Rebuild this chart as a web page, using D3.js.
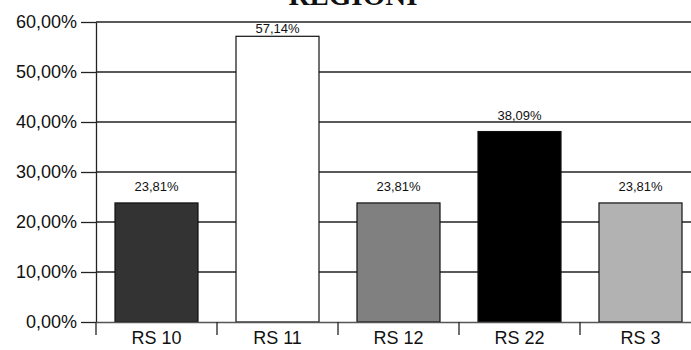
<!DOCTYPE html>
<html>
<head>
<meta charset="utf-8">
<script src="https://cdn.jsdelivr.net/npm/d3@7"></script>
<style>
  html, body { margin: 0; padding: 0; background: #fff; }
  svg { display: block; }
</style>
</head>
<body>
<svg id="chart" width="691" height="350"></svg>
<script>
// Share of cases by region
const categories = ["RS 10", "RS 11", "RS 12", "RS 22", "RS 3"];
const values = [0.2381, 0.5714, 0.2381, 0.3809, 0.2381];
const barColors = ["#333333", "#ffffff", "#808080", "#000000", "#b2b2b2"];
const yTicks = [0, 0.1, 0.2, 0.3, 0.4, 0.5, 0.6];
const title = "REGIONI";

const svg = d3.select("#chart");
const plotLeft = 96, plotRight = 701, plotTop = 22, plotBottom = 322;

const itLocale = d3.formatLocale({ decimal: ",", thousands: ".", grouping: [3], currency: ["", " €"] });
const pct = itLocale.format(".2%");

const x = d3.scaleBand()
  .domain(categories)
  .range([plotLeft, plotRight])
  .paddingInner(0.314)
  .paddingOuter(0.157);

const y = d3.scaleLinear().domain([0, 0.6]).range([plotBottom, plotTop]);

// horizontal gridlines
svg.append("g")
  .selectAll("line")
  .data(yTicks.filter(d => d > 0))
  .join("line")
  .attr("x1", plotLeft).attr("x2", 691)
  .attr("y1", d => y(d)).attr("y2", d => y(d))
  .attr("stroke", "#222").attr("stroke-width", 1.3);

// y axis
const yAxis = svg.append("g")
  .attr("transform", `translate(${plotLeft},0)`)
  .call(d3.axisLeft(y).tickValues(yTicks).tickFormat(pct).tickSize(15).tickSizeOuter(0).tickPadding(4));
yAxis.select(".domain").attr("stroke", "#222").attr("stroke-width", 1.3);
yAxis.selectAll(".tick line").attr("stroke", "#222").attr("stroke-width", 1.3);
yAxis.selectAll("text")
  .attr("font-family", "'Liberation Sans', Arial, sans-serif")
  .attr("font-size", 18).attr("fill", "#111");

// bars
svg.append("g")
  .selectAll("rect")
  .data(categories)
  .join("rect")
  .attr("x", d => x(d))
  .attr("width", x.bandwidth())
  .attr("y", (d, i) => y(values[i]))
  .attr("height", (d, i) => y(0) - y(values[i]))
  .attr("fill", (d, i) => barColors[i])
  .attr("stroke", "#111").attr("stroke-width", 1.2);

// x axis
const xAxis = svg.append("g")
  .attr("transform", `translate(0,${plotBottom})`)
  .call(d3.axisBottom(x).tickSize(0).tickPadding(9));
xAxis.select(".domain").attr("stroke", "#555").attr("stroke-width", 1.5);
xAxis.selectAll("text")
  .attr("font-family", "'Liberation Sans', Arial, sans-serif")
  .attr("font-size", 18).attr("fill", "#111");

// category separators below the axis
svg.append("g")
  .selectAll("line")
  .data(categories)
  .join("line")
  .attr("x1", d => x(d) - x.step() * x.paddingOuter())
  .attr("x2", d => x(d) - x.step() * x.paddingOuter())
  .attr("y1", plotBottom).attr("y2", plotBottom + 13)
  .attr("stroke", "#222").attr("stroke-width", 1.3);

// value labels, kept below the top edge of the plot
svg.append("g")
  .selectAll("text")
  .data(categories)
  .join("text")
  .attr("x", d => x(d) + x.bandwidth() / 2)
  .attr("y", (d, i) => Math.max(y(values[i]) - 12, plotTop + 11))
  .attr("text-anchor", "middle")
  .attr("font-family", "'Liberation Sans', Arial, sans-serif")
  .attr("font-size", 13).attr("fill", "#111")
  .text((d, i) => pct(values[i]));

// title
svg.append("text")
  .attr("x", 353).attr("y", 5)
  .attr("text-anchor", "middle")
  .attr("font-family", "'Liberation Serif', 'Times New Roman', serif")
  .attr("font-weight", "bold")
  .attr("font-size", 29).attr("fill", "#111")
  .text(title);
</script>
</body>
</html>
